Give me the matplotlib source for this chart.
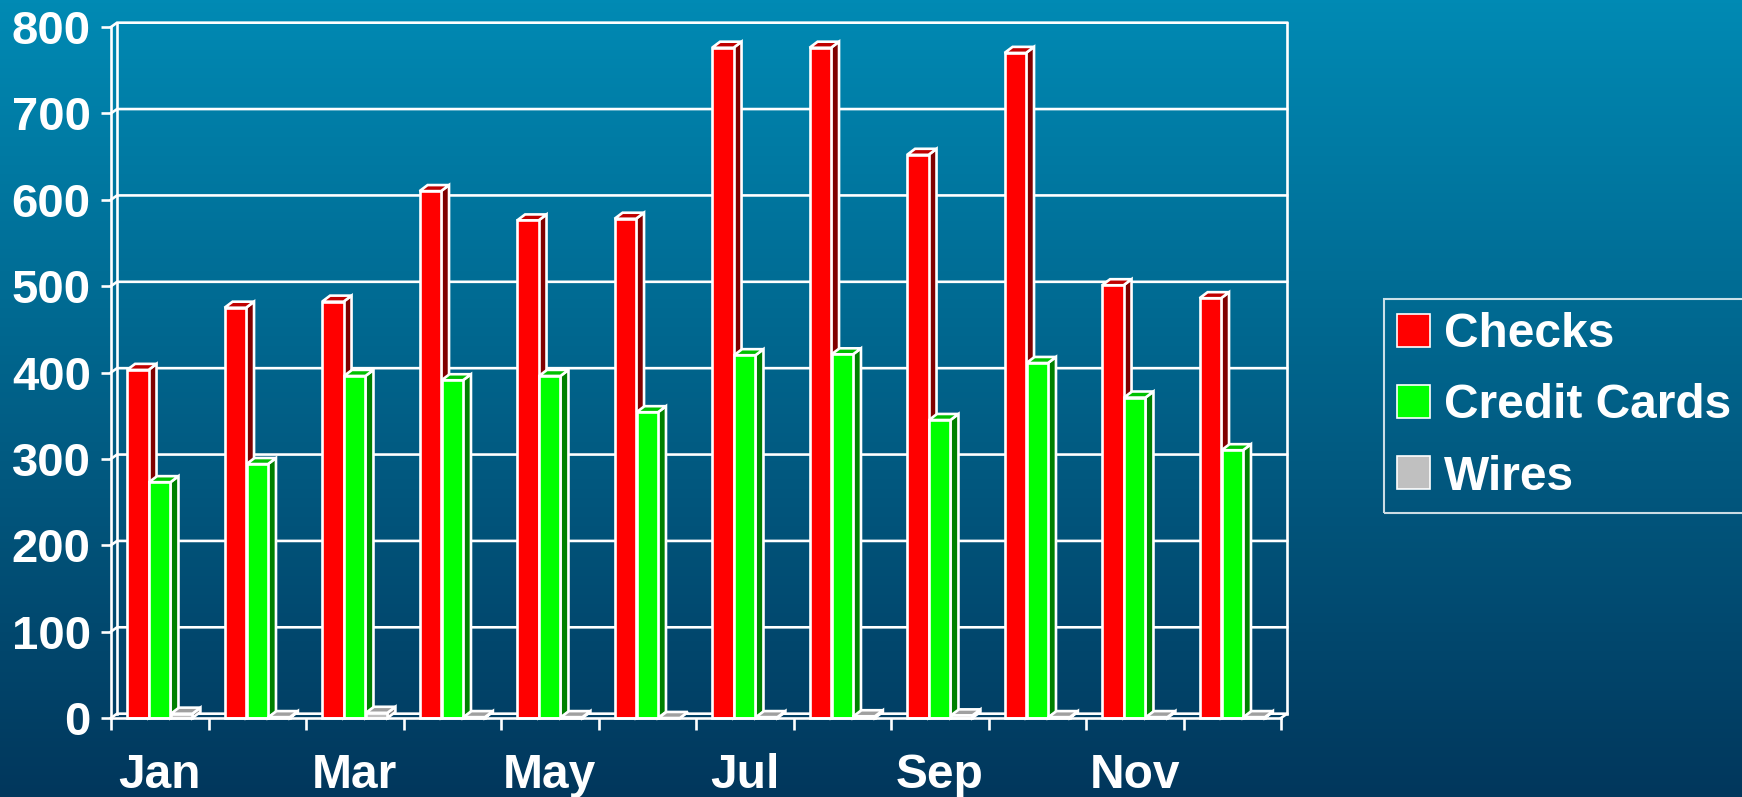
import numpy as np
import matplotlib
matplotlib.use("Agg")
import matplotlib.pyplot as plt
from matplotlib.patches import Polygon, Patch

months = ['Jan', 'Feb', 'Mar', 'Apr', 'May', 'Jun',
          'Jul', 'Aug', 'Sep', 'Oct', 'Nov', 'Dec']
series = ['Checks', 'Credit Cards', 'Wires']
checks = [403, 475, 482, 610, 576, 578, 776, 776, 652, 770, 501, 486]
credit_cards = [273, 294, 396, 391, 396, 354, 420, 421, 345, 411, 371, 310]
wires = [5, 1, 6, 1, 1, 0, 1, 2, 3, 1, 1, 1]
y_ticks = [0, 100, 200, 300, 400, 500, 600, 700, 800]

front_colors = ['#ff0000', '#00ff00', '#c0c0c0']
top_colors = ['#c00000', '#00c000', '#a0a0a0']
side_colors = ['#800000', '#008000', '#808080']

plt.rcParams['font.family'] = ['Liberation Sans', 'DejaVu Sans']
plt.rcParams['font.weight'] = 'bold'

W, H, DPI = 1742, 797, 100
fig = plt.figure(figsize=(W / DPI, H / DPI), dpi=DPI)

# background gradient
bg = fig.add_axes([0, 0, 1, 1], zorder=-10)
top_rgb = np.array([0, 138, 180]) / 255
bot_rgb = np.array([2, 55, 92]) / 255
t = np.linspace(0, 1, 256)[:, None]
grad = top_rgb[None, :] * (1 - t) + bot_rgb[None, :] * t
bg.imshow(grad[:, None, :], aspect='auto', extent=[0, 1, 0, 1])
bg.axis('off')

ax = fig.add_axes([111 / W, (H - 718) / H, 1170 / W, 691 / H])
ax.set_facecolor('none')
n = len(months)
ax.set_xlim(0, n)
ax.set_ylim(0, 800)

WDX, WDY = 0.062, 5.0   # wall depth
DX, DY = 0.082, 7.0     # bar depth
lw = 1.9
white = 'white'

# back wall grid lines
for yv in y_ticks:
    ax.plot([0, WDX, n + WDX], [yv, yv + WDY, yv + WDY], color=white, lw=lw,
            clip_on=False, zorder=1, solid_joinstyle='miter')
ax.plot([WDX, WDX], [WDY, 800 + WDY], color=white, lw=lw, clip_on=False, zorder=1)
ax.plot([n + WDX, n + WDX], [WDY, 800 + WDY], color=white, lw=lw, clip_on=False, zorder=1)
ax.plot([n, n + WDX], [0, WDY], color=white, lw=lw, clip_on=False, zorder=1)

# bars
x = np.arange(n) + 0.5
bw = 0.22
offsets = [-0.225, 0.0, 0.225]
values = [checks, credit_cards, wires]
z = 2
for i in range(n):
    for k in range(3):
        h = values[k][i]
        xc = x[i] + offsets[k]
        ax.bar(xc, h, width=bw, color=front_colors[k], edgecolor=white,
               linewidth=lw, zorder=z + 2, clip_on=False)
        x0 = xc - bw / 2
        x1 = xc + bw / 2
        top = Polygon([(x0, h), (x0 + DX, h + DY), (x1 + DX, h + DY), (x1, h)],
                      closed=True, facecolor=top_colors[k], edgecolor=white,
                      linewidth=lw, zorder=z + 1, clip_on=False)
        side = Polygon([(x1, 0), (x1, h), (x1 + DX, h + DY), (x1 + DX, DY)],
                       closed=True, facecolor=side_colors[k], edgecolor=white,
                       linewidth=lw, zorder=z, clip_on=False)
        ax.add_patch(side)
        ax.add_patch(top)
        z += 3

# axes / ticks
for s in ['top', 'right']:
    ax.spines[s].set_visible(False)
for s in ['left', 'bottom']:
    ax.spines[s].set_color(white)
    ax.spines[s].set_linewidth(lw)
    ax.spines[s].set_zorder(200)

ax.set_yticks(y_ticks)
ax.set_yticklabels([str(v) for v in y_ticks])
ax.tick_params(axis='y', colors=white, length=7.5, width=lw, pad=7,
               labelsize=34)
ax.set_xticks(np.arange(n + 1))
ax.set_xticklabels([])
ax.tick_params(axis='x', which='major', colors=white, length=8.5, width=lw)
ax.set_xticks(x[::2], labels=months[::2], minor=True)
ax.tick_params(axis='x', which='minor', length=0, pad=25, labelsize=34.5,
               labelcolor=white)
for lab in ax.get_xticklabels(minor=True) + ax.get_yticklabels():
    lab.set_fontweight('bold')

handles = [Patch(facecolor=c, edgecolor=white, linewidth=1.2) for c in front_colors]
leg = fig.legend(handles, series, loc='upper left',
                 bbox_to_anchor=(1384 / W, 1 - 299 / H),
                 prop={'size': 34.5, 'weight': 'bold'}, labelcolor=white,
                 frameon=True, fancybox=False, edgecolor=white,
                 handlelength=0.68, handleheight=0.68, handletextpad=0.3,
                 labelspacing=0.55, borderpad=0.27, borderaxespad=0)
leg.get_frame().set_facecolor('none')
leg.get_frame().set_linewidth(1.5)

fig.savefig('out.png', dpi=DPI)
